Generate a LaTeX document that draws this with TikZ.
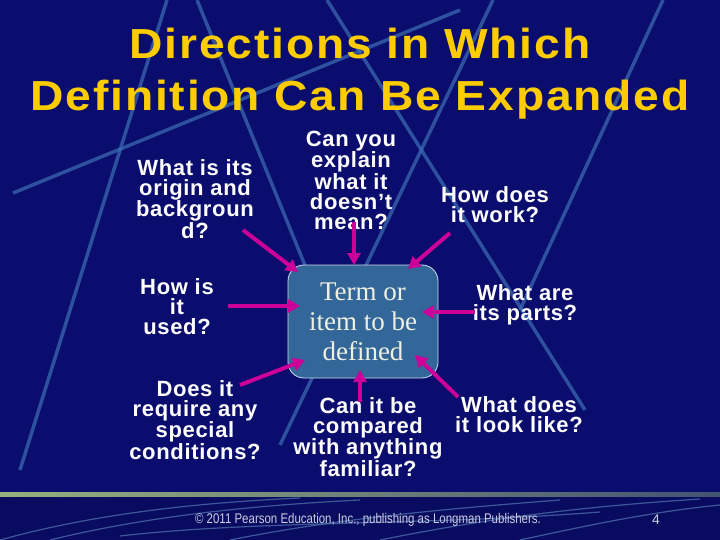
\documentclass[tikz,border=0pt]{standalone}
\usepackage{fontspec}
\setmainfont{Liberation Sans}
\newfontfamily\titlefont[LetterSpace=4]{Liberation Sans}
\newfontfamily\askfont[LetterSpace=3]{Liberation Sans}
\newfontfamily\termfont{Liberation Serif}
\usetikzlibrary{arrows.meta,calc}
\definecolor{slidebg}{RGB}{10,12,110}
\definecolor{slidedark}{RGB}{8,11,95}
\definecolor{titleyellow}{RGB}{255,204,0}
\definecolor{arrowpink}{RGB}{204,0,153}
\definecolor{termblue}{RGB}{51,102,153}
\definecolor{termedge}{RGB}{205,220,235}
\definecolor{termtext}{RGB}{240,240,225}
\definecolor{streak}{RGB}{60,110,180}
\definecolor{rulegreen}{RGB}{170,215,125}
\definecolor{credittext}{RGB}{205,205,225}

\begin{document}
\begin{tikzpicture}[x=1pt,y=-1pt,
    ask/.style={text=white,align=center,inner sep=0pt,
      font=\askfont\bfseries\fontsize{22}{20}\selectfont},
    qarrow/.style={draw=arrowpink,line width=4pt,-{Triangle[length=12pt,width=13pt]}},
    streakline/.style={draw=streak,line width=3.5pt,opacity=0.7},
    swoosh/.style={draw=streak!80!white,line width=1.2pt,opacity=0.6}]
  \useasboundingbox (0,0) rectangle (720,540);
  \fill[slidebg] (0,0) rectangle (720,540);
  \fill[slidedark] (0,494) rectangle (720,540);

  \foreach \ax/\ay/\bx/\by in {167/0/20/470, 197/0/315/290, 13/193/460/10,
      493/0/280/445, 327/0/585/410, 663/0/520/310}
  {
    \draw[streakline] (\ax,\ay) -- (\bx,\by);
  };

  \shade[left color=rulegreen!55!gray,middle color=rulegreen,right color=rulegreen!35!slidebg]
    (0,492) rectangle (720,496);
  \draw[swoosh] (0,540) .. controls (90,515) and (190,503) .. (300,498);
  \draw[swoosh] (50,540) .. controls (140,518) and (240,506) .. (360,500);
  \draw[swoosh] (230,540) .. controls (330,520) and (430,510) .. (560,500);
  \draw[swoosh] (380,540) .. controls (470,522) and (560,508) .. (700,499);
  \draw[swoosh] (520,540) .. controls (590,525) and (650,512) .. (720,505);
  \draw[swoosh] (120,536) .. controls (260,520) and (420,526) .. (600,512);

  \node[text=titleyellow,align=center,inner sep=0pt,
    font=\titlefont\bfseries\fontsize{42}{52}\selectfont] (title) at (360,74)
    {\scalebox{1.1}[1]{Directions in Which}\\\scalebox{1.1}[1]{Definition Can Be Expanded}};

  \node[draw=termedge,line width=0.8pt,fill=termblue,rounded corners=16pt,
    minimum width=150pt,minimum height=113pt,align=center,text=termtext,
    font=\termfont\fontsize{27}{30}\selectfont] (term) at (363,321.5)
    {Term or\\item to be\\defined};

  \node[ask] (origin) at (195,199) {What is its\\origin and\\backgroun\\d?};
  \node[ask] (explain) at (351,180) {Can you\\explain\\what it\\doesn’t\\mean?};
  \node[ask] (work) at (495,205) {How does\\it work?};
  \node[ask] (used) at (177,306.5) {How is\\it\\used?};
  \node[ask] (parts) at (525,305) {What are\\its parts?};
  \node[ask] (special) at (195,420) {Does it\\require any\\special\\conditions?};
  \node[ask] (compared) at (368,437) {Can it be\\compared\\with anything\\familiar?};
  \node[ask] (look) at (519,415) {What does\\it look like?};

  \foreach \q/\qx/\qy/\tx/\ty in {origin/48/31/-65/-49.5, explain/3/42/-9/-56.5,
      work/-45/28/45/-52.5, used/51/-0.5/-63/-15.5, special/45/-35/-58/38.5,
      compared/-8/-35/-3/48.5, look/-61/-18/52/33.5, parts/-50/7/59/-9.5}
  {
    \draw[qarrow] ($(\q)+(\qx,\qy)$) -- ($(term)+(\tx,\ty)$);
  };

  \node[text=credittext,font=\fontsize{14}{16}\selectfont] (credit) at (368,520)
    {\scalebox{0.82}[1]{© 2011 Pearson Education, Inc., publishing as Longman Publishers.}};
  \node[text=credittext,font=\fontsize{14}{16}\selectfont] (pageno) at (656,520) {4};
\end{tikzpicture}
\end{document}
